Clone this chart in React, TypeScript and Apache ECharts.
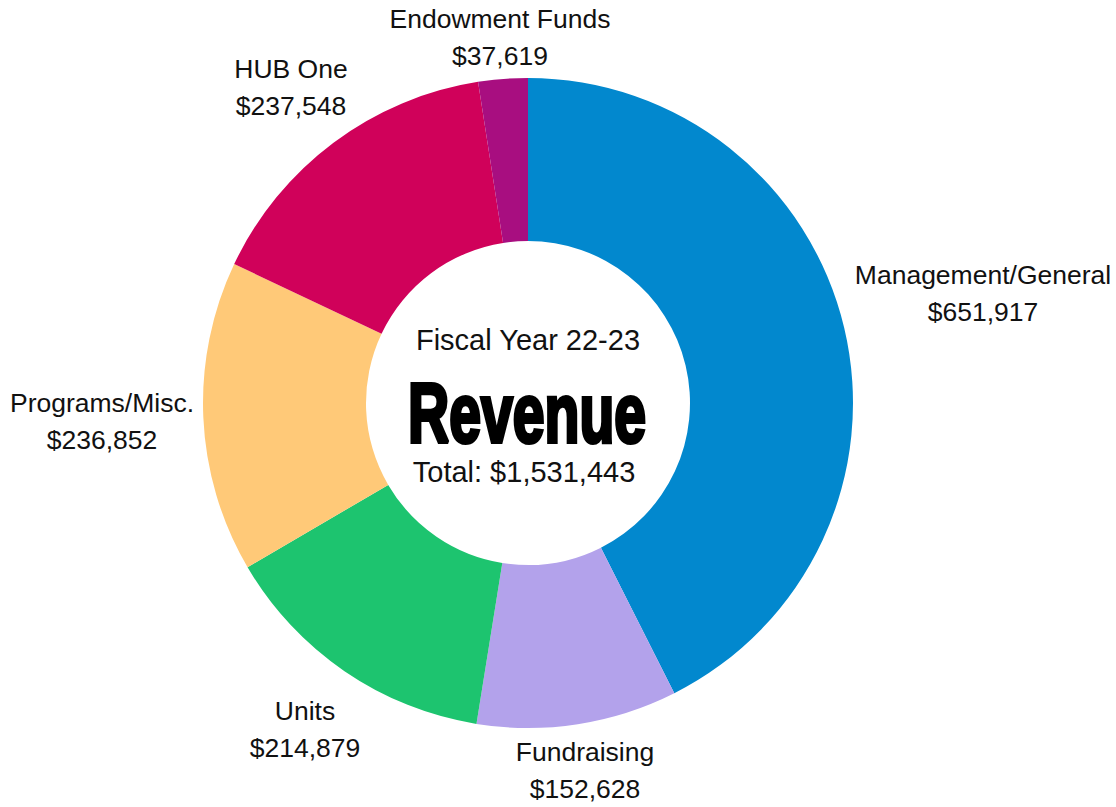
import React, { useEffect, useRef } from "react";
import * as echarts from "echarts";

const categories = ["Management/General", "Fundraising", "Units", "Programs/Misc.", "HUB One", "Endowment Funds"];
const values = [651917, 152628, 214879, 236852, 237548, 37619];
const colors = ["#0288CE", "#B3A2EB", "#1DC46F", "#FFC978", "#D0015A", "#A80E80"];
const labelPos: [number, number][] = [
  [983, 293],
  [585, 770],
  [305, 729],
  [102, 421],
  [291, 87],
  [500, 37],
];
const subtitle = "Fiscal Year 22-23";
const heading = "Revenue";
const totalText = "Total: $1,531,443";

const fmt = (v: number) => "$" + v.toLocaleString("en-US");

export default function App() {
  const ref = useRef<HTMLDivElement>(null);
  useEffect(() => {
    if (!ref.current) return;
    const chart = echarts.init(ref.current, null, { renderer: "svg" });
    const font = "'Liberation Sans', Arial, sans-serif";
    chart.setOption({
      animation: false,
      backgroundColor: "#ffffff",
      series: [
        {
          type: "pie",
          center: [528, 403],
          radius: [162, 325],
          startAngle: 90,
          clockwise: true,
          avoidLabelOverlap: false,
          data: categories.map((c, i) => ({ name: c, value: values[i], itemStyle: { color: colors[i] } })),
          label: {
            show: true,
            position: "outside",
            formatter: (p: any) => `${p.name}\n${fmt(p.value)}`,
            fontFamily: font,
            fontSize: 26.5,
            lineHeight: 37,
            color: "#111111",
            align: "center",
          },
          labelLine: { show: false },
          labelLayout: (p: any) => ({
            x: labelPos[p.dataIndex][0],
            y: labelPos[p.dataIndex][1],
            align: "center",
            verticalAlign: "middle",
          }),
          emphasis: { disabled: true },
        },
      ],
      graphic: [
        {
          type: "text",
          x: 528,
          y: 340,
          style: { text: subtitle, fontFamily: font, fontSize: 29, fill: "#111", align: "center", verticalAlign: "middle" },
        },
        {
          type: "text",
          x: 527,
          y: 413,
          scaleX: 0.68,
          style: {
            text: heading,
            fontFamily: font,
            fontWeight: "bold",
            fontSize: 84,
            fill: "#000",
            stroke: "#000",
            lineWidth: 4,
            align: "center",
            verticalAlign: "middle",
          },
        },
        {
          type: "text",
          x: 524,
          y: 472,
          style: { text: totalText, fontFamily: font, fontSize: 29, fill: "#111", align: "center", verticalAlign: "middle" },
        },
      ],
    });
    return () => chart.dispose();
  }, []);
  return <div ref={ref} style={{ position: "fixed", left: 0, top: 0, width: 1116, height: 807 }} />;
}
